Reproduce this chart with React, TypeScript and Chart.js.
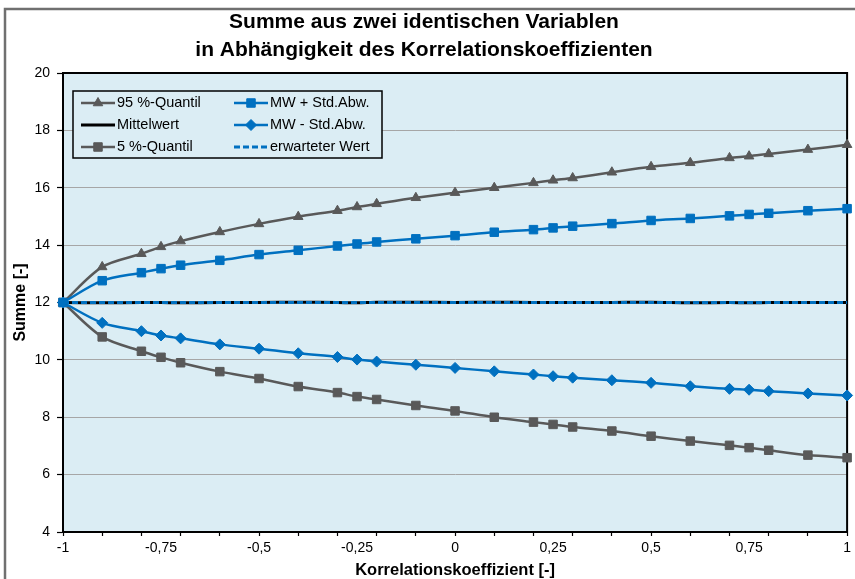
import React, { useEffect, useRef } from 'react';
import { Chart, registerables } from 'chart.js';
import { drawPoint } from 'chart.js/helpers';

Chart.register(...registerables);

// ---- Data ----
const xValues = [-1, -0.9, -0.8, -0.75, -0.7, -0.6, -0.5, -0.4, -0.3, -0.25, -0.2, -0.1, 0, 0.1, 0.2, 0.25, 0.3, 0.4, 0.5, 0.6, 0.7, 0.75, 0.8, 0.9, 1];
const quantil95 = [12, 13.24, 13.7, 13.94, 14.14, 14.46, 14.74, 14.99, 15.2, 15.33, 15.44, 15.65, 15.83, 16.0, 16.17, 16.26, 16.34, 16.54, 16.73, 16.87, 17.04, 17.1, 17.18, 17.33, 17.5];
const mwPlusStd = [12, 12.76, 13.04, 13.18, 13.3, 13.47, 13.67, 13.82, 13.97, 14.04, 14.11, 14.22, 14.33, 14.45, 14.54, 14.6, 14.66, 14.75, 14.86, 14.93, 15.02, 15.07, 15.11, 15.2, 15.27];
const mittelwert = [12, 11.99, 12.0, 12.0, 11.99, 12.0, 12.0, 12.01, 12.0, 11.99, 12.01, 12.01, 12.0, 12.01, 12.0, 12.0, 12.0, 12.0, 12.01, 11.99, 12.0, 11.99, 12.0, 12.0, 12.0];
const mwMinusStd = [12, 11.29, 11.0, 10.85, 10.75, 10.54, 10.39, 10.23, 10.1, 10.01, 9.94, 9.83, 9.72, 9.6, 9.49, 9.43, 9.38, 9.29, 9.2, 9.08, 8.99, 8.96, 8.91, 8.83, 8.76];
const quantil5 = [12, 10.8, 10.3, 10.09, 9.9, 9.59, 9.35, 9.07, 8.86, 8.72, 8.62, 8.41, 8.22, 8.0, 7.83, 7.75, 7.66, 7.52, 7.34, 7.17, 7.02, 6.94, 6.85, 6.68, 6.59];
const erwarteterX = [-1, 1];
const erwarteterWert = [12, 12];

const xTickValues = [-1, -0.9, -0.8, -0.75, -0.7, -0.6, -0.5, -0.4, -0.3, -0.25, -0.2, -0.1, 0, 0.1, 0.2, 0.25, 0.3, 0.4, 0.5, 0.6, 0.7, 0.75, 0.8, 0.9, 1];
const yMin = 4;
const yMax = 20;
const yStep = 2;

const titleLines = ['Summe aus zwei identischen Variablen', 'in Abhängigkeit des Korrelationskoeffizienten'];
const xTitle = 'Korrelationskoeffizient [-]';
const yTitle = 'Summe [-]';
const seriesLabels = ['95 %-Quantil', 'MW + Std.Abw.', 'Mittelwert', 'MW - Std.Abw.', '5 %-Quantil', 'erwarteter Wert'];

// ---- Styles ----
const FONT = "'Liberation Sans', Arial, Helvetica, sans-serif";
const GRAY = '#595959';
const BLUE = '#0070C0';
const PLOT_BG = '#DBEDF4';
const GRID = '#A6A6A6';

const pts = (xs: number[], ys: number[]) => xs.map((x, i) => ({ x, y: ys[i] }));

const legendStyles = [
  { color: GRAY, width: 2.5, dash: [] as number[], point: 'triangle', radius: 5.5 },
  { color: BLUE, width: 2.5, dash: [] as number[], point: 'rect', radius: 6 },
  { color: '#000000', width: 3, dash: [] as number[], point: null, radius: 0 },
  { color: BLUE, width: 2.5, dash: [] as number[], point: 'rectRot', radius: 5.5 },
  { color: GRAY, width: 2.5, dash: [] as number[], point: 'rect', radius: 6 },
  { color: BLUE, width: 3, dash: [6, 3], point: null, radius: 0 },
];

const framePlugin = {
  id: 'frameBg',
  beforeDraw(chart: any) {
    const { ctx, chartArea: a } = chart;
    ctx.save();
    ctx.fillStyle = '#ffffff';
    ctx.fillRect(0, 0, chart.width, chart.height);
    ctx.strokeStyle = '#707070';
    ctx.lineWidth = 2.5;
    ctx.strokeRect(5, 9, chart.width + 20, chart.height + 20);
    ctx.fillStyle = PLOT_BG;
    ctx.fillRect(a.left, a.top, a.right - a.left, a.bottom - a.top);
    ctx.restore();
  },
  beforeDatasetsDraw(chart: any) {
    const { ctx, chartArea: a } = chart;
    ctx.save();
    ctx.strokeStyle = '#000000';
    ctx.lineWidth = 2;
    ctx.strokeRect(a.left, a.top, a.right - a.left, a.bottom - a.top);
    ctx.restore();
  },
};

const legendPlugin = {
  id: 'insideLegend',
  afterDraw(chart: any) {
    const { ctx, chartArea: a } = chart;
    const bx = a.left + 10;
    const by = a.top + 18;
    const bw = 309;
    const bh = 67;
    ctx.save();
    ctx.fillStyle = PLOT_BG;
    ctx.fillRect(bx, by, bw, bh);
    ctx.strokeStyle = '#000000';
    ctx.lineWidth = 1.5;
    ctx.strokeRect(bx, by, bw, bh);
    ctx.font = `14.5px ${FONT}`;
    ctx.textBaseline = 'middle';
    ctx.textAlign = 'left';
    seriesLabels.forEach((label, i) => {
      const st = legendStyles[i];
      const col = i % 2;
      const row = Math.floor(i / 2);
      const x0 = bx + 8 + col * 153;
      const x1 = x0 + 34;
      const y = by + 12 + row * 22;
      ctx.strokeStyle = st.color;
      ctx.lineWidth = st.width;
      ctx.setLineDash(st.dash);
      ctx.beginPath();
      ctx.moveTo(x0, y);
      ctx.lineTo(x1, y);
      ctx.stroke();
      ctx.setLineDash([]);
      if (st.point) {
        ctx.fillStyle = st.color;
        ctx.strokeStyle = st.color;
        ctx.lineWidth = 1;
        drawPoint(ctx, { pointStyle: st.point, radius: st.radius, rotation: 0, borderWidth: 1 } as any, (x0 + x1) / 2, y);
      }
      ctx.fillStyle = '#000000';
      ctx.fillText(label, x1 + 2, y);
    });
    ctx.restore();
  },
};

function lineDs(label: string, ys: number[], color: string, pointStyle: any, radius: number, order: number) {
  return {
    label,
    data: pts(xValues, ys),
    borderColor: color,
    backgroundColor: color,
    borderWidth: 2.5,
    pointStyle,
    pointRadius: radius,
    pointBackgroundColor: color,
    pointBorderColor: color,
    pointBorderWidth: 1,
    tension: 0.3,
    clip: false as any,
    order,
  };
}

export default function App() {
  const ref = useRef<HTMLCanvasElement | null>(null);
  useEffect(() => {
    if (!ref.current) return;
    const chart = new Chart(ref.current, {
      type: 'line',
      data: {
        datasets: [
          {
            label: seriesLabels[5],
            data: pts(erwarteterX, erwarteterWert),
            borderColor: BLUE,
            borderWidth: 3,
            borderDash: [6, 3],
            pointRadius: 0,
            tension: 0,
            clip: false as any,
            order: 0,
          },
          {
            label: seriesLabels[2],
            data: pts(xValues, mittelwert),
            borderColor: '#000000',
            borderWidth: 3,
            pointRadius: 0,
            tension: 0.3,
            clip: false as any,
            order: 1,
          },
          lineDs(seriesLabels[0], quantil95, GRAY, 'triangle', 5.5, 5),
          lineDs(seriesLabels[4], quantil5, GRAY, 'rect', 6, 4),
          lineDs(seriesLabels[1], mwPlusStd, BLUE, 'rect', 6, 3),
          lineDs(seriesLabels[3], mwMinusStd, BLUE, 'rectRot', 5.5, 2),
        ] as any,
      },
      options: {
        animation: false,
        responsive: false,
        events: [],
        layout: { padding: { left: 0, right: 7, top: 0, bottom: 0 } },
        plugins: {
          legend: { display: false },
          tooltip: { enabled: false },
          title: {
            display: true,
            text: titleLines,
            color: '#000000',
            font: { family: FONT, size: 21, weight: 'bold', lineHeight: 28 / 21 },
            padding: { top: 8, bottom: 9 },
          },
        },
        scales: {
          x: {
            type: 'linear',
            min: -1,
            max: 1,
            afterBuildTicks: (scale: any) => {
              scale.ticks = xTickValues.map((v) => ({ value: v }));
            },
            afterFit: (scale: any) => {
              scale.height = 47;
            },
            ticks: {
              autoSkip: false,
              maxRotation: 0,
              padding: 4,
              color: '#000000',
              font: { family: FONT, size: 14 },
              callback: (v: any) => {
                const r = Math.round(Number(v) * 100);
                if (r % 25 !== 0) return '';
                return String(Number(v)).replace('.', ',');
              },
            },
            grid: {
              drawOnChartArea: false,
              drawTicks: true,
              tickLength: 4,
              tickWidth: 1.2,
              tickColor: (c: any) => {
                const t = c.tick ? c.tick.value * 10 : 0;
                return Math.abs(Math.round(t) - t) < 1e-6 ? '#000000' : 'rgba(0,0,0,0)';
              },
            },
            border: { display: true, color: '#000000', width: 2 },
            title: {
              display: true,
              text: xTitle,
              color: '#000000',
              font: { family: FONT, size: 16.5, weight: 'bold', lineHeight: 1 },
              padding: { top: 0, bottom: 0 },
            },
          },
          y: {
            type: 'linear',
            min: yMin,
            max: yMax,
            afterFit: (scale: any) => {
              scale.width = 63;
            },
            ticks: {
              stepSize: yStep,
              padding: 7,
              color: '#000000',
              font: { family: FONT, size: 14 },
            },
            grid: {
              color: GRID,
              lineWidth: 1,
              tickLength: 6,
              tickColor: '#000000',
              tickWidth: 1.2,
            },
            border: { display: true, color: '#000000', width: 2 },
            title: {
              display: true,
              text: yTitle,
              color: '#000000',
              font: { family: FONT, size: 16, weight: 'bold', lineHeight: 1.2 },
              padding: { top: 11, bottom: 0 },
            },
          },
        },
      } as any,
      plugins: [framePlugin, legendPlugin],
    });
    return () => chart.destroy();
  }, []);

  return (
    <div style={{ position: 'fixed', left: 0, top: 0, width: 855, height: 579, background: '#ffffff' }}>
      <canvas ref={ref} width={855} height={579} style={{ display: 'block', width: 855, height: 579 }} />
    </div>
  );
}
